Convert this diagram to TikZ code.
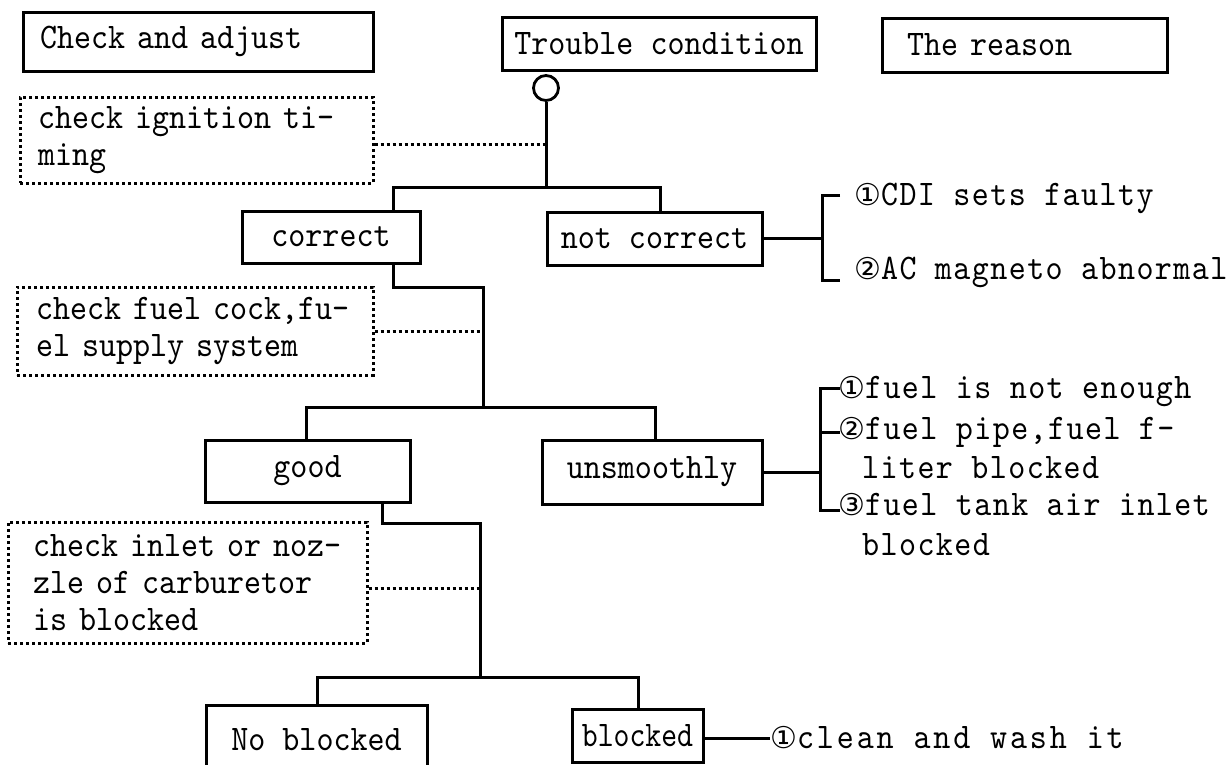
\documentclass[tikz,border=0pt]{standalone}
\usepackage{fontspec}
\newfontfamily\tw{lmmono10-regular.otf}[FakeStretch=0.9]
\newfontfamily\twr{lmmono10-regular.otf}[FakeStretch=0.9, LetterSpace=4]
\newfontfamily\twc{lmmono10-regular.otf}[FakeStretch=0.9, LetterSpace=8]
\newfontfamily\twn{lmmono10-regular.otf}[FakeStretch=0.84]
\newfontfamily\djf{DejaVu Sans}
\newcommand\cnum[1]{{\djf\fontsize{30}{30}\selectfont #1}}
\begin{document}
\begin{tikzpicture}[x=1pt,y=-1pt,
  box/.style={draw, line width=3pt, inner sep=0pt, font=\tw\fontsize{36}{38}\selectfont},
  dbox/.style={draw, line width=3pt, dash pattern=on 3pt off 3pt, inner sep=0pt, align=left, font=\tw\fontsize{36}{37}\selectfont},
  con/.style={line width=3pt},
  dcon/.style={line width=3pt, dash pattern=on 3pt off 3pt},
  rtext/.style={anchor=west, inner sep=0pt, font=\twr\fontsize{36}{38}\selectfont}]
\useasboundingbox (0,0) rectangle (1226,764);
\fill[white] (0,0) rectangle (1226,764);
\clip (0,0) rectangle (1226,764);

% headers
\node[box, minimum width=350pt, minimum height=59pt, text width=316pt, inner xsep=17pt, align=left] (hdr1) at (198,41.5) {Check and adjust};
\node[box, minimum width=314pt, minimum height=53pt] (hdr2) at (659,43.5) {Trouble condition};
\node[box, minimum width=285pt, minimum height=54pt, text width=235pt, inner xsep=25pt, align=left] (hdr3) at (1024.5,45) {The reason};

% start circle
\node[draw, circle, line width=2.8pt, minimum size=25pt, inner sep=0pt] (c) at (546,88) {};

% check boxes (dotted)
\node[dbox, minimum width=353pt, minimum height=86pt, text width=317pt, inner xsep=18pt] (d1) at (196.5,140) {\mbox{check ignition ti-}\\\mbox{ming}};
\node[dbox, minimum width=356pt, minimum height=88pt, text width=318pt, inner xsep=19pt] (d2) at (195,331) {\mbox{check fuel cock,fu-}\\\mbox{el supply system}};
\node[dbox, minimum width=359pt, minimum height=121pt, text width=309pt, inner xsep=25pt] (d3) at (187.5,582.5) {\mbox{check inlet or noz-}\\\mbox{zle of carburetor}\\\mbox{is blocked}};

% condition boxes
\node[box, minimum width=178pt, minimum height=52pt] (cor) at (331,237) {correct};
\node[box, minimum width=215pt, minimum height=53pt] (notc) at (654.5,238.5) {not correct};
\node[box, minimum width=205pt, minimum height=62pt] (good) at (307.5,471) {good};
\node[box, minimum width=220pt, minimum height=64pt] (unsm) at (652,472) {unsmoothly};
\node[box, minimum width=221pt, minimum height=70pt] (nob) at (316.5,740) {No blocked};
\node[box, minimum width=131pt, minimum height=53pt, font=\twn\fontsize{36}{38}\selectfont] (blk) at (637.5,735.5) {blocked};

% reason texts
\node[rtext] (r11) at (854,198) {\cnum{①}CDI sets faulty};
\node[rtext] (r12) at (854,272) {\cnum{②}AC magneto abnormal};
\node[rtext] (r21) at (838,392) {\cnum{①}fuel is not enough};
\node[rtext] (r22) at (838,432) {\cnum{②}fuel pipe,fuel f-};
\node[rtext] (r22b) at (862,468) {liter blocked};
\node[rtext] (r23) at (838,505) {\cnum{③}fuel tank air inlet};
\node[rtext] (r23b) at (862,545) {blocked};
\node[rtext, font=\twc\fontsize{36}{38}\selectfont] (r31) at (770,738) {\cnum{①}clean and wash it};

% coordinates
\coordinate (aL) at (393,187);
\coordinate (aR) at (660,187);
\coordinate (k1) at (393,287);
\coordinate (k2) at (483,287);
\coordinate (m) at (483,407);
\coordinate (mL) at (306,407);
\coordinate (mR) at (655,407);
\coordinate (g1) at (382,523);
\coordinate (g2) at (480,523);
\coordinate (g3) at (480,677);
\coordinate (nL) at (317,677);
\coordinate (nR) at (638,677);
\coordinate (b1) at (822,238.5);
\coordinate (b1t) at (840,195);
\coordinate (b1b) at (840,280);
\coordinate (b2) at (820,472);
\coordinate (b2t) at (840,388);
\coordinate (b2m) at (840,432);
\coordinate (b2b) at (840,510);

% connectors
\draw[con] (c.south) -- (c.south |- aL);
\draw[con] (aL |- cor.north) -- (aL) -- (aR) -- (aR |- notc.north);
\draw[dcon] (d1.east |- 0,144) -- (c.south |- 0,144);
\draw[con] (notc.east) -- (b1);
\draw[con] (b1t) -| (b1) |- (b1b);

\draw[con] (aL |- cor.south) -- (k1) -- (k2) -- (m);
\draw[dcon] (d2.east) -- (d2.east -| m);
\draw[con] (mL |- good.north) -- (mL) -- (mR) -- (mR |- unsm.north);
\draw[con] (unsm.east) -- (b2);
\draw[con] (b2t) -| (b2) |- (b2b);
\draw[con] (b2m) -- (b2m -| b2);

\draw[con] (g1 |- good.south) -- (g1) -- (g2) -- (g3);
\draw[dcon] (d3.east |- 0,588) -- (g3 |- 0,588);
\draw[con] (nL |- nob.north) -- (nL) -- (nR) -- (nR |- blk.north);
\draw[con] (blk.east |- r31.west) -- (r31.west);
\end{tikzpicture}
\end{document}
